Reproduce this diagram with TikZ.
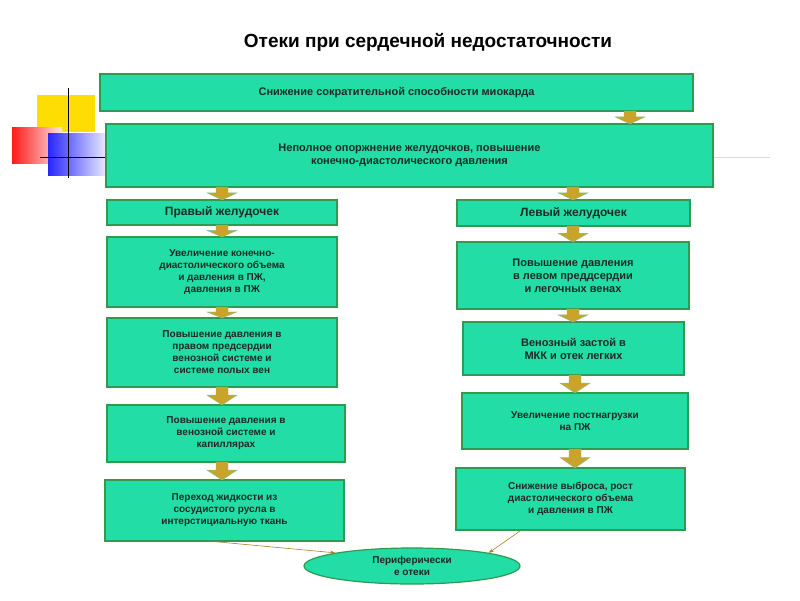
\documentclass[tikz,border=0pt]{standalone}
\usepackage{fontspec}
\setmainfont{Liberation Sans}
\usetikzlibrary{shapes.geometric,arrows.meta}
\definecolor{boxfill}{HTML}{22DDA6}
\definecolor{boxedge}{HTML}{2E9B50}
\definecolor{arrfill}{HTML}{C9A32A}
\definecolor{txt}{HTML}{1E2A24}
\tikzset{
 bx/.style={draw=boxedge,line width=1.2pt,fill=boxfill,align=center,font=\bfseries\fontsize{11}{13}\selectfont,text=txt,inner sep=0pt},
 conn/.style={draw=brown!70!olive,line width=0.6pt,-{Stealth[length=5pt]}}
}
\newcommand{\blk}[3]{% x, ytop, ybot
 \fill[arrfill,draw=boxedge!60,line width=0.4pt] (#1-6,#2) -- (#1+6,#2) -- (#1+6,{#2+0.45*(#3-#2)}) -- (#1+15,{#2+0.45*(#3-#2)}) -- (#1,#3) -- (#1-15,{#2+0.45*(#3-#2)}) -- (#1-6,{#2+0.45*(#3-#2)}) -- cycle;}
\begin{document}
\begin{tikzpicture}[x=1pt,y=-1pt]
\useasboundingbox (0,0) rectangle (800,600);
\fill[white] (0,0) rectangle (800,600);
% decoration
\fill[yellow!80!orange] (37,95) rectangle (95,132);
\shade[left color=red!90,right color=red!10] (12,127) rectangle (62,163);
\shade[left color=blue!85,right color=blue!10] (48,133) rectangle (105,175);
\draw[black,line width=1pt] (68,88) -- (68,178);
\draw[black,line width=1pt] (40,157) -- (105,157);
\draw[gray!30,line width=1pt] (713,157) -- (770,157);
\node[font=\bfseries\fontsize{19}{22}\selectfont] (title) at (428,42) {Отеки при сердечной недостаточности};
\node[bx,minimum width=593,minimum height=37] (a) at (396.5,92.5) {Снижение сократительной способности миокарда};
\node[bx,minimum width=607,minimum height=63] (b) at (409.5,155.5) {Неполное опоржнение желудочков, повышение\\конечно-диастолического давления};
\node[bx,minimum width=230,minimum height=25,font=\bfseries\fontsize{12}{14}\selectfont] (r1) at (222,212.5) {Правый желудочек};
\node[bx,minimum width=230,minimum height=70,font=\bfseries\fontsize{10}{12}\selectfont] (r2) at (222,272) {Увеличение конечно-\\диастолического объема\\и давления в ПЖ,\\давления в ПЖ};
\node[bx,minimum width=230,minimum height=69,font=\bfseries\fontsize{10}{12}\selectfont] (r3) at (222,352.5) {Повышение давления в\\правом предсердии\\венозной системе и\\системе полых вен};
\node[bx,minimum width=238,minimum height=57,font=\bfseries\fontsize{10}{12}\selectfont] (r4) at (226,433.5) {Повышение давления  в\\венозной системе и\\капиллярах};
\node[bx,minimum width=239,minimum height=61,font=\bfseries\fontsize{10}{12}\selectfont] (r5) at (224.5,510.5) {Переход жидкости из\\сосудистого русла в\\интерстициальную ткань};
\node[bx,minimum width=233,minimum height=26,font=\bfseries\fontsize{12}{14}\selectfont] (l1) at (573.5,213) {Левый желудочек};
\node[bx,minimum width=232,minimum height=67] (l2) at (573,275.5) {Повышение давления\\в левом преддсердии\\и легочных венах};
\node[bx,minimum width=221,minimum height=53] (l3) at (573.5,348.5) {Венозный застой в\\МКК и отек легких};
\node[bx,minimum width=226,minimum height=56,font=\bfseries\fontsize{10}{12}\selectfont] (l4) at (575,421) {Увеличение постнагрузки\\на  ПЖ};
\node[bx,minimum width=229,minimum height=62,font=\bfseries\fontsize{10}{12}\selectfont] (l5) at (570.5,499) {Снижение  выброса, рост\\диастолического объема\\и давления в ПЖ};
\node[ellipse,draw=boxedge,line width=1.2pt,fill=boxfill,minimum width=216,minimum height=36,inner sep=0pt,align=center,font=\bfseries\fontsize{10}{12}\selectfont,text=txt] (e) at (412,566) {Периферически\\е отеки};
% block arrows
\blk{630}{111}{124}
\blk{222}{187}{200}
\blk{573}{187}{200}
\blk{222}{225}{237}
\blk{573}{226}{242}
\blk{222}{307}{318}
\blk{573}{309}{322}
\blk{222}{387}{405}
\blk{575}{375}{393}
\blk{222}{462}{480}
\blk{575}{449}{468}
\draw[conn] (r5.south) ++(-10,0) -- (e.north west);
\draw[conn] (l5.south) ++(-50,0) -- (e.north east);
\end{tikzpicture}
\end{document}
